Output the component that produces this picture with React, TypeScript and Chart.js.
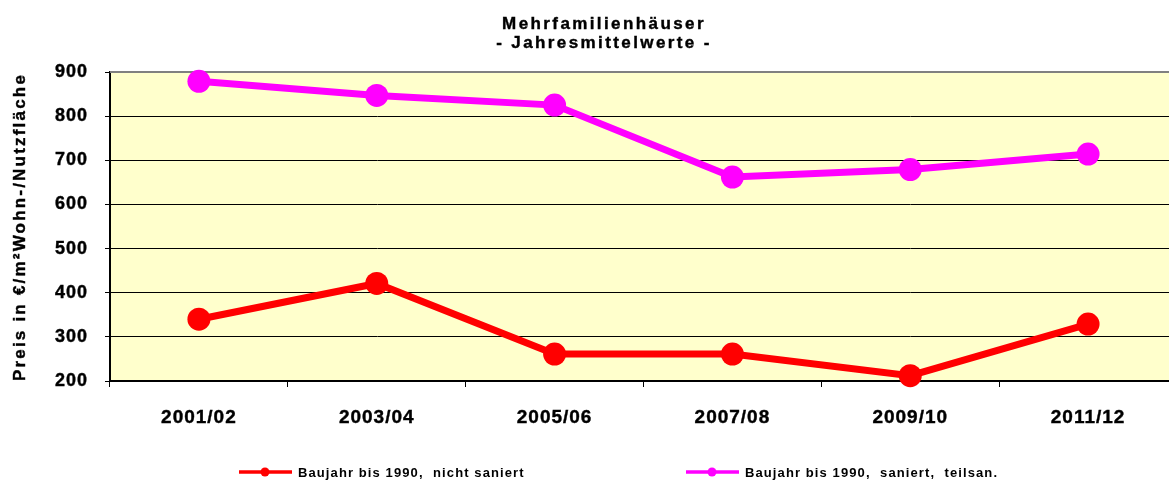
import React, { useEffect, useRef } from "react";
import { Chart, registerables } from "chart.js";

Chart.register(...registerables);

const categories = ["2001/02", "2003/04", "2005/06", "2007/08", "2009/10", "2011/12"];
const nichtSaniert = [340, 421, 261, 261, 212, 329];
const saniertTeilsan = [879, 847, 825, 662, 679, 714];
const seriesLabels = ["Baujahr bis 1990,  nicht saniert", "Baujahr bis 1990,  saniert,  teilsan."];
const seriesColors = ["#FF0000", "#FF00FF"];
const titleLines = ["Mehrfamilienhäuser", "- Jahresmittelwerte -"];
const yAxisTitle = "Preis in €/m²Wohn-/Nutzfläche";
const yMin = 200;
const yMax = 900;
const yStep = 100;

const FONT = "'Liberation Sans', Arial, sans-serif";

const decor = {
  id: "decor",
  beforeDraw(chart: any) {
    const { ctx, chartArea: a } = chart;
    ctx.save();
    ctx.fillStyle = "#FFFFCC";
    ctx.fillRect(a.left, a.top, a.right - a.left, a.bottom - a.top);
    ctx.restore();
    ctx.letterSpacing = "1px";
  },
  beforeDatasetsDraw(chart: any) {
    const { ctx, chartArea: a } = chart;
    ctx.save();
    ctx.strokeStyle = "#808080";
    ctx.lineWidth = 2;
    ctx.beginPath();
    ctx.moveTo(a.left, a.top);
    ctx.lineTo(a.right + 20, a.top);
    ctx.stroke();
    ctx.restore();
  },
  afterDraw(chart: any) {
    const { ctx } = chart;
    ctx.save();
    ctx.fillStyle = "#000";
    ctx.strokeStyle = "#000";
    ctx.lineWidth = 0.4;
    // titles
    ctx.font = `bold 17px ${FONT}`;
    ctx.letterSpacing = "2.4px";
    ctx.textAlign = "center";
    ctx.textBaseline = "alphabetic";
    ctx.fillText(titleLines[0], 604, 29);
    ctx.strokeText(titleLines[0], 604, 29);
    ctx.fillText(titleLines[1], 604, 48);
    ctx.strokeText(titleLines[1], 604, 48);
    // y axis title
    ctx.save();
    ctx.translate(20, 227);
    ctx.rotate(-Math.PI / 2);
    ctx.font = `bold 17px ${FONT}`;
    ctx.letterSpacing = "2.2px";
    ctx.textAlign = "center";
    ctx.textBaseline = "middle";
    ctx.fillText(yAxisTitle, 0, 0);
    ctx.strokeText(yAxisTitle, 0, 0);
    ctx.restore();
    // legend
    const items = [
      { x0: 239, label: seriesLabels[0], color: seriesColors[0] },
      { x0: 686, label: seriesLabels[1], color: seriesColors[1] },
    ];
    const ly = 472;
    for (const it of items) {
      ctx.strokeStyle = it.color;
      ctx.lineWidth = 3.5;
      ctx.beginPath();
      ctx.moveTo(it.x0, ly);
      ctx.lineTo(it.x0 + 53, ly);
      ctx.stroke();
      ctx.fillStyle = it.color;
      ctx.beginPath();
      ctx.arc(it.x0 + 26, ly, 4.5, 0, Math.PI * 2);
      ctx.fill();
      ctx.fillStyle = "#000";
      ctx.font = `bold 13px ${FONT}`;
      ctx.letterSpacing = "1.1px";
      ctx.textAlign = "left";
      ctx.textBaseline = "middle";
      ctx.fillText(it.label, it.x0 + 59, ly + 1);
    }
    ctx.restore();
  },
};

export default function App() {
  const ref = useRef<HTMLCanvasElement | null>(null);
  useEffect(() => {
    if (!ref.current) return;
    const chart = new Chart(ref.current, {
      type: "line",
      data: {
        labels: categories,
        datasets: [
          {
            label: seriesLabels[0],
            data: nichtSaniert,
            borderColor: seriesColors[0],
            backgroundColor: seriesColors[0],
            borderWidth: 7,
            pointRadius: 11.5,
            pointBackgroundColor: seriesColors[0],
            pointBorderWidth: 0,
            clip: false,
          },
          {
            label: seriesLabels[1],
            data: saniertTeilsan,
            borderColor: seriesColors[1],
            backgroundColor: seriesColors[1],
            borderWidth: 7,
            pointRadius: 11.5,
            pointBackgroundColor: seriesColors[1],
            pointBorderWidth: 0,
            clip: false,
          },
        ],
      },
      options: {
        animation: false,
        responsive: false,
        devicePixelRatio: 1,
        layout: { padding: { top: 72, right: 13, bottom: 0, left: 0 } },
        plugins: {
          legend: { display: false },
          title: { display: false },
          tooltip: { enabled: false },
        },
        scales: {
          x: {
            type: "category",
            offset: true,
            grid: {
              display: true,
              drawOnChartArea: false,
              drawTicks: true,
              tickLength: 6,
              color: "#000",
              lineWidth: 1,
              offset: true,
            },
            border: { display: true, color: "#000", width: 2 },
            ticks: {
              color: "#000",
              font: { family: FONT, size: 19, weight: "bold" },
              padding: 19,
              maxRotation: 0,
              autoSkip: false,
              textStrokeColor: "#000",
              textStrokeWidth: 0.4,
            },
            afterFit(scale: any) {
              scale.height = 100;
            },
          },
          y: {
            min: yMin,
            max: yMax,
            grid: { color: "#000", lineWidth: 1, tickLength: 5 },
            border: { display: true, color: "#000", width: 2 },
            ticks: {
              stepSize: yStep,
              color: "#000",
              font: { family: FONT, size: 18, weight: "bold" },
              padding: 17,
              textStrokeColor: "#000",
              textStrokeWidth: 0.4,
            },
            afterFit(scale: any) {
              scale.width = 110;
            },
          },
        },
      },
      plugins: [decor],
    });
    return () => chart.destroy();
  }, []);
  return (
    <div
      style={{
        position: "fixed",
        left: 0,
        top: 0,
        width: 1169,
        height: 481,
        overflow: "hidden",
        background: "#fff",
      }}
    >
      <canvas ref={ref} width={1190} height={481} style={{ width: 1190, height: 481, display: "block" }} />
    </div>
  );
}
